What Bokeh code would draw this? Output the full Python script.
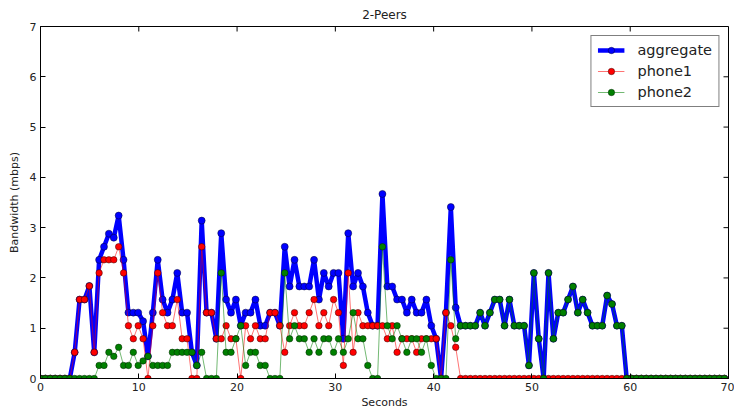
import numpy as np
from bokeh.plotting import figure
from bokeh.models import Range1d, Legend, LegendItem, FixedTicker, ColumnDataSource
from bokeh.embed import file_html
from bokeh.resources import INLINE

SAMPLE_INTERVAL = 0.497  # seconds between samples

aggregate = [
    0, 0, 0, 0, 0, 0, 0, 0.52, 1.57, 1.57,
    1.84, 0.52, 2.36, 2.62, 2.88, 2.80, 3.24, 2.36, 1.31, 1.31,
    1.31, 1.14, 0.44, 1.31, 2.36, 1.57, 1.31, 1.57, 2.10, 1.31,
    1.31, 0.52, 0.26, 3.14, 1.31, 1.31, 0.79, 2.89, 1.57, 1.31,
    1.57, 1.05, 1.31, 1.31, 1.57, 1.05, 1.05, 1.31, 1.31, 1.05,
    2.62, 1.83, 2.36, 1.83, 1.83, 1.83, 2.36, 1.57, 2.10, 1.83,
    2.10, 2.10, 0.79, 2.89, 1.83, 2.10, 1.83, 1.31, 1.05, 1.05,
    3.67, 1.83, 1.83, 1.57, 1.57, 1.31, 1.57, 1.31, 1.31, 1.57,
    1.05, 0.79, 0, 1.31, 3.41, 1.41, 1.05, 1.05, 1.05, 1.05,
    1.31, 1.05, 1.31, 1.57, 1.57, 1.05, 1.57, 1.05, 1.05, 1.05,
    0.26, 2.10, 0.79, 0, 2.10, 0.79, 1.31, 1.31, 1.57, 1.83,
    1.31, 1.57, 1.31, 1.05, 1.05, 1.05, 1.65, 1.48, 1.05, 1.05,
    0, 0, 0, 0, 0, 0, 0, 0, 0, 0,
    0, 0, 0, 0, 0, 0, 0, 0, 0, 0,
    0,
]

phone1 = [
    0, 0, 0, 0, 0, 0, 0, 0.52, 1.57, 1.57,
    1.84, 0.52, 2.10, 2.36, 2.36, 2.36, 2.62, 2.10, 1.05, 0.79,
    1.05, 0.79, 0, 1.05, 2.10, 1.31, 1.05, 1.05, 1.57, 0.79,
    0.79, 0, 0, 2.62, 1.31, 1.31, 0.79, 0.79, 1.05, 0.79,
    0.79, 0, 1.05, 0.79, 1.05, 0.79, 0.79, 1.31, 1.31, 1.05,
    0.52, 1.05, 1.31, 1.05, 1.05, 1.31, 1.57, 1.05, 1.31, 1.05,
    1.57, 1.31, 0.26, 2.10, 0.52, 1.31, 1.05, 1.05, 1.05, 1.05,
    1.05, 0.79, 1.05, 0.52, 0.79, 0.79, 0.79, 0.52, 0.79, 0.79,
    0.79, 0.79, 0, 1.31, 1.05, 0.62, 0, 0, 0, 0,
    0, 0, 0, 0, 0, 0, 0, 0, 0, 0,
    0, 0, 0, 0, 0, 0, 0, 0, 0, 0,
    0, 0, 0, 0, 0, 0, 0, 0, 0, 0,
    0, 0, 0, 0, 0, 0, 0, 0, 0, 0,
    0, 0, 0, 0, 0, 0, 0, 0, 0, 0,
    0,
]

phone2 = [
    0, 0, 0, 0, 0, 0, 0, 0, 0, 0,
    0, 0, 0.26, 0.26, 0.52, 0.44, 0.62, 0.26, 0.26, 0.52,
    0.26, 0.35, 0.44, 0.26, 0.26, 0.26, 0.26, 0.52, 0.52, 0.52,
    0.52, 0.52, 0.26, 0.52, 0, 0, 0, 2.10, 0.52, 0.52,
    0.79, 1.05, 0.26, 0.52, 0.52, 0.26, 0.26, 0, 0, 0,
    2.10, 0.79, 1.05, 0.79, 0.79, 0.52, 0.79, 0.52, 0.79, 0.79,
    0.52, 0.79, 0.52, 0.79, 1.31, 0.79, 0.79, 0.26, 0, 0,
    2.62, 1.05, 0.79, 1.05, 0.79, 0.52, 0.79, 0.79, 0.52, 0.79,
    0.26, 0, 0, 0, 2.36, 0.79, 1.05, 1.05, 1.05, 1.05,
    1.31, 1.05, 1.31, 1.57, 1.57, 1.05, 1.57, 1.05, 1.05, 1.05,
    0.26, 2.10, 0.79, 0, 2.10, 0.79, 1.31, 1.31, 1.57, 1.83,
    1.31, 1.57, 1.31, 1.05, 1.05, 1.05, 1.65, 1.48, 1.05, 1.05,
    0, 0, 0, 0, 0, 0, 0, 0, 0, 0,
    0, 0, 0, 0, 0, 0, 0, 0, 0, 0,
    0,
]

x_ticks = [0, 10, 20, 30, 40, 50, 60, 70]
y_ticks = [0, 1, 2, 3, 4, 5, 6, 7]
X_MAX = 70
Y_MAX = 7

t = np.arange(len(aggregate)) * SAMPLE_INTERVAL
src = ColumnDataSource(dict(t=t, agg=aggregate, p1=phone1, p2=phone2))

FONT = "DejaVu Sans"

p = figure(width=734, height=413, output_backend="svg", toolbar_location=None,
           x_range=Range1d(0, X_MAX), y_range=Range1d(0, Y_MAX),
           title="2-Peers", min_border_left=40, min_border_right=6,
           min_border_top=26, min_border_bottom=35)
p.background_fill_color = "white"
p.border_fill_color = "white"
p.outline_line_color = "black"
p.outline_line_width = 1
p.grid.visible = False

p.title.align = "center"
p.title.text_font = FONT
p.title.text_font_size = "12px"
p.title.text_font_style = "normal"
p.title.text_color = "#222222"

for ax in (p.xaxis[0], p.yaxis[0]):
    ax.major_tick_in = 5
    ax.major_tick_out = 0
    ax.minor_tick_line_color = None
    ax.axis_line_color = "black"
    ax.major_label_text_font = FONT
    ax.major_label_text_font_size = "11px"
    ax.major_label_text_color = "#222222"
    ax.axis_label_text_font = FONT
    ax.axis_label_text_font_size = "11px"
    ax.axis_label_text_font_style = "normal"
    ax.axis_label_text_color = "#222222"

p.xaxis[0].ticker = FixedTicker(ticks=x_ticks)
p.yaxis[0].ticker = FixedTicker(ticks=y_ticks)
p.xaxis[0].axis_label = "Seconds"
p.yaxis[0].axis_label = "Bandwidth (mbps)"
p.xaxis[0].axis_label_standoff = 2
p.yaxis[0].axis_label_standoff = 6
p.xaxis[0].major_label_standoff = 4
p.yaxis[0].major_label_standoff = 4

# inward tick marks on the top and right edges of the frame
p.ray(x=x_ticks, y=[Y_MAX] * len(x_ticks), length=5, length_units="screen",
      angle=-np.pi / 2, line_color="black", line_width=1)
p.ray(x=[X_MAX] * len(y_ticks), y=y_ticks, length=5, length_units="screen",
      angle=np.pi, line_color="black", line_width=1)

agg_line = p.line("t", "agg", source=src, line_color="#0000ff", line_width=4.5)
agg_pts = p.scatter("t", "agg", source=src, size=7, fill_color="#0000ff",
                    line_color="#000033", line_width=0.5)
p1_line = p.line("t", "p1", source=src, line_color="#ff0000", line_width=1, line_alpha=0.55)
p1_pts = p.scatter("t", "p1", source=src, size=6.5, fill_color="#ff0000",
                   line_color="#330000", line_width=0.5)
p2_line = p.line("t", "p2", source=src, line_color="#008000", line_width=1, line_alpha=0.55)
p2_pts = p.scatter("t", "p2", source=src, size=6.5, fill_color="#008000",
                   line_color="#002200", line_width=0.5)

legend = Legend(items=[
    LegendItem(label="aggregate", renderers=[agg_line, agg_pts]),
    LegendItem(label="phone1", renderers=[p1_line, p1_pts]),
    LegendItem(label="phone2", renderers=[p2_line, p2_pts]),
], location="top_right")
legend.border_line_color = "black"
legend.border_line_width = 1
legend.background_fill_alpha = 1
legend.label_text_font = FONT
legend.label_text_font_size = "14.5px"
legend.label_text_color = "#222222"
legend.glyph_width = 27
legend.glyph_height = 16
legend.label_height = 16
legend.label_standoff = 13
legend.spacing = 5
legend.padding = 6
legend.margin = 9
p.add_layout(legend)

open("out.html", "w").write(file_html(p, INLINE))
